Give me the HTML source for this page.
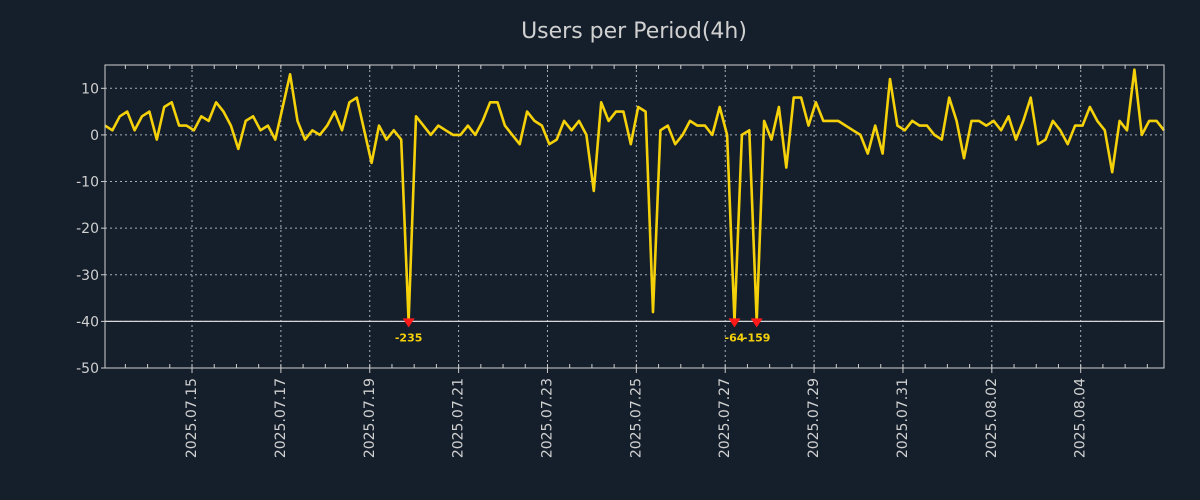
<!DOCTYPE html>
<html><head><meta charset="utf-8"><style>
html,body{margin:0;padding:0;background:#151f2c;}
svg{display:block;font-family:"DejaVu Sans","Liberation Sans",sans-serif;}
</style></head><body>
<svg id="chart" width="1200" height="500" viewBox="0 0 1200 500">
<rect x="0" y="0" width="1200" height="500" fill="#151f2c"/>
<text x="634" y="38" text-anchor="middle" font-size="22" fill="#d0d0d0">Users per Period(4h)</text>
<g id="grid"></g>
<g id="series"></g>
<g id="axes"></g>
</svg>
<script>
const values = [2,1,4,5,1,4,5,-1,6,7,
2,2,1,4,3,7,5,2,-3,3,
4,1,2,-1,6,13,3,-1,1,0,
2,5,1,7,8,1,-6,2,-1,1,
-1,-235,4,2,0,2,1,0,0,2,
0,3,7,7,2,0,-2,5,3,2,
-2,-1,3,1,3,0,-12,7,3,5,
5,-2,6,5,-38,1,2,-2,0,3,
2,2,0,6,0,-64,0,1,-159,3,
-1,6,-7,8,8,2,7,3,3,3,
2,1,0,-4,2,-4,12,2,1,3,
2,2,0,-1,8,3,-5,3,3,2,
3,1,4,-1,3,8,-2,-1,3,1,
-2,2,2,6,3,1,-8,3,1,14,
0,3,3,1];
const startTime = "2025-07-13T01:00:00Z";
const periodHours = 4;
const xTickLabels = ["2025.07.15","2025.07.17","2025.07.19","2025.07.21","2025.07.23","2025.07.25","2025.07.27","2025.07.29","2025.07.31","2025.08.02","2025.08.04"];
const yTicks = [10,0,-10,-20,-30,-40,-50];
const clipValue = -40;

const NS="http://www.w3.org/2000/svg";
const L=105,R=1164,T=65,B=368,yMin=-50,yMax=15;
const t0=Date.parse(startTime), step=periodHours*3600e3;
const t1=t0+(values.length-1)*step;
function xT(t){return L+(t-t0)/(t1-t0)*(R-L);}
function xI(i){return xT(t0+i*step);}
function y(v){return B-(v-yMin)/(yMax-yMin)*(B-T);}
function mk(tag,attrs,parent){const e=document.createElementNS(NS,tag);for(const k in attrs)e.setAttribute(k,attrs[k]);parent.appendChild(e);return e;}
const grid=document.getElementById('grid'),axes=document.getElementById('axes'),series=document.getElementById('series');

yTicks.forEach(v=>{
  const yy=y(v);
  if(v!==yMin){const g=mk('line',{x1:L,x2:R,y1:yy,y2:yy,stroke:'#a8aeb6','stroke-width':1,'stroke-dasharray':'2,3'},grid);
  
  }
  const tk=mk('line',{x1:L-4,x2:L,y1:yy,y2:yy,stroke:'#ccc'},axes);
  
  
  const t=mk('text',{x:L-6,y:yy+5,'text-anchor':'end','font-size':14,fill:'#d0d0d0'},axes);
  
  
  t.textContent=v;
});
const dayStart=Date.parse("2025-07-13T12:00:00Z");
for(let t=dayStart;t<=t1;t+=12*3600e3){
  const xx=xT(t); if(xx<L||xx>R)continue;
  [[T,T+4],[B-4,B]].forEach(p=>{const m=mk('line',{x1:xx,x2:xx,y1:p[0],y2:p[1],stroke:'#ccc'},axes);
  
  });
}
xTickLabels.forEach(s=>{
  const t=Date.parse(s.replace(/\./g,'-')+"T00:00:00Z");
  const xx=xT(t);
  const g=mk('line',{x1:xx,x2:xx,y1:T,y2:B,stroke:'#a8aeb6','stroke-width':1,'stroke-dasharray':'2,3'},grid);
  
  
  const tk=mk('line',{x1:xx,x2:xx,y1:B,y2:B+5,stroke:'#ccc'},axes);
  
  
  const lb=mk('text',{x:0,y:0,'text-anchor':'end','font-size':14,fill:'#d0d0d0',transform:`translate(${xx+4},${B+10}) rotate(-90)`},axes);
  
  
  lb.textContent=s;
});
const cl=mk('line',{x1:L,x2:R,y1:y(clipValue),y2:y(clipValue),stroke:'#d8d8d8','stroke-width':1.2},grid);



const pts=values.map((v,i)=>xI(i).toFixed(1)+','+y(Math.max(v,clipValue)).toFixed(1)).join(' ');
const pl=mk('polyline',{points:pts,fill:'none',stroke:'#f5d10a','stroke-width':2.6,'stroke-linejoin':'round'},series);



values.forEach((v,i)=>{
  if(v>=clipValue)return;
  const xx=xI(i),yy=y(clipValue);
  const m=mk('path',{d:`M${xx-6},${yy-3} L${xx+6},${yy-3} L${xx},${yy+6} Z`,fill:'#ff1a1a'},series);
  
  
  const t=mk('text',{x:xx,y:yy+20,'text-anchor':'middle','font-size':11,'font-weight':'bold',fill:'#f5d10a'},series);
  
  
  t.textContent=v;
});
const fr=mk('rect',{x:L,y:T,width:R-L,height:B-T,fill:'none',stroke:'#d0d0d0','stroke-width':1},axes);


</script>
</body></html>
